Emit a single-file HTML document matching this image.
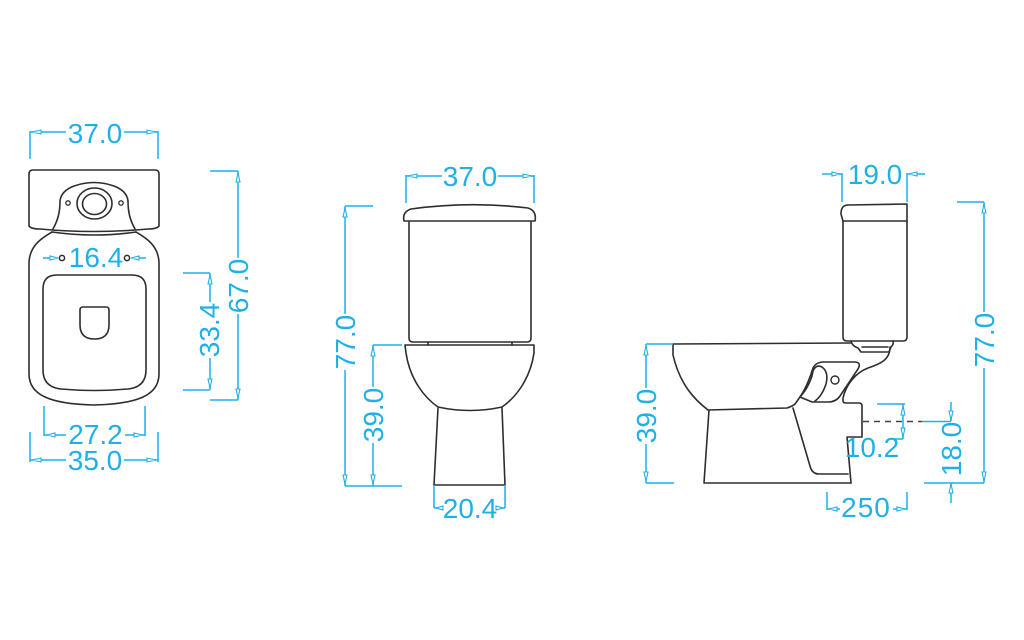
<!DOCTYPE html>
<html>
<head>
<meta charset="utf-8">
<style>
  html,body{margin:0;padding:0;background:#fff;}
  svg{display:block;}
  .d{fill:none;stroke:#2e2e2e;stroke-width:1.6;stroke-linejoin:round;stroke-linecap:round;}
  .c{fill:none;stroke:#1fb0e8;stroke-width:1.5;}
  .a{fill:#fff;stroke:#1fb0e8;stroke-width:1.1;}
  text{font-family:"Liberation Sans",sans-serif;font-size:28px;fill:#1fb0e8;text-anchor:middle;}
</style>
</head>
<body>
<svg width="1024" height="640" viewBox="0 0 1024 640" xmlns="http://www.w3.org/2000/svg">

<!-- ================= LEFT (TOP VIEW) ================= -->
<!-- tank -->
<path class="d" d="M29 226 L29 174 Q29 170 33 170 L155 170 Q159 170 159 174 L159 226 Q157 229 148 229 Q94 234 40 229 Q31 229 29 226"/>
<path class="d" d="M52 232 Q94 238 136 232"/>
<!-- hump -->
<path class="d" d="M53 229 C58 220 60 212 60 201 Q61 191 74 186 Q94 179 114 186 Q127 191 128 201 C128 212 130 220 135 229"/>
<ellipse class="d" cx="94.5" cy="203.5" rx="17.5" ry="15.5"/>
<ellipse class="d" cx="94.5" cy="204" rx="12" ry="10.5"/>
<circle class="d" cx="68" cy="203" r="2.2" style="stroke-width:1.3"/>
<circle class="d" cx="121" cy="203" r="2.2" style="stroke-width:1.3"/>
<!-- bowl outline -->
<path class="d" d="M52 232 C42 238 30 245 29 262 L29 374 C29 395 50 404 94 405 C138 404 159 395 159 374 L159 262 C158 245 146 238 136 232"/>
<!-- seat -->
<path class="d" d="M43 289 Q43 275 57 275 L132 275 Q146 275 146 289 L146 370 Q146 387 128 389 Q94 392 61 389 Q43 387 43 370 Z"/>
<!-- D handle -->
<path class="d" d="M80 310 Q80 307 83 307 L106 307 Q109 307 109 310 L109 325 Q109 339 94.5 339 Q80 339 80 325 Z"/>
<!-- 16.4 dots -->
<circle cx="62" cy="258" r="2.6" fill="#fff" stroke="#2e2e2e" stroke-width="1.5"/>
<circle cx="127" cy="258" r="2.6" fill="#fff" stroke="#2e2e2e" stroke-width="1.5"/>

<!-- dims left -->
<!-- 37.0 -->
<path class="c" d="M30 131 V159 M158 131 V159 M30 132 H66 M124 132 H158"/>
<path class="a" d="M32 132 l9 -2 v4 z M156 132 l-9 -2 v4 z"/>
<text x="95" y="143">37.0</text>
<!-- 16.4 -->
<path class="c" d="M43 258 H57 M132 258 H146"/>
<path class="a" d="M58 258 l-8 -2 v4 z M131 258 l8 -2 v4 z"/>
<text x="96" y="267">16.4</text>
<!-- 27.2 -->
<path class="c" d="M44 406 V436 M145 406 V436 M44 435 H66 M125 435 H145"/>
<path class="a" d="M47 435 l8 -2 v4 z M142 435 l-8 -2 v4 z"/>
<text x="95.5" y="444">27.2</text>
<!-- 35.0 -->
<path class="c" d="M30 432 V462 M158 432 V462 M30 460 H66 M124 460 H158"/>
<path class="a" d="M32 460 l9 -2 v4 z M156 460 l-9 -2 v4 z"/>
<text x="95" y="470">35.0</text>
<!-- 67.0 -->
<path class="c" d="M210 171 H238 M210 400 H238 M238 171 V258 M238 314 V400"/>
<path class="a" d="M238 173 l-2 9 h4 z M238 398 l-2 -9 h4 z"/>
<text transform="translate(248,286) rotate(-90)">67.0</text>
<!-- 33.4 -->
<path class="c" d="M183 273 H210 M183 390 H210 M210 273 V302 M210 358 V390"/>
<path class="a" d="M210 275 l-2 9 h4 z M210 388 l-2 -9 h4 z"/>
<text transform="translate(219,330) rotate(-90)">33.4</text>

<!-- ================= MIDDLE (FRONT VIEW) ================= -->
<path class="d" d="M404 221 Q402 212 411 209 Q470 201 528 208 Q537 211 535 221 Z"/>
<path class="d" d="M409 222 L409 338 Q409 342 413 342 L527 342 Q531 342 531 338 L531 222"/>
<path class="d" d="M428 342 V345 M512 342 V345"/>
<path class="d" d="M405 345 L534 345 L534 353 C530 380 515 398 502 407 Q470 414 438 407 C425 398 410 380 406 353 Z"/>
<path class="d" d="M438 408 L434 485 L505 485 L502 408"/>

<!-- 37.0 -->
<path class="c" d="M406 175 V203 M534 175 V203 M406 176 H442 M498 176 H534"/>
<path class="a" d="M408 176 l9 -2 v4 z M532 176 l-9 -2 v4 z"/>
<text x="470" y="186">37.0</text>
<!-- 77.0 -->
<path class="c" d="M345 206 H373 M345 486 H402 M345 206 V314 M345 370 V486"/>
<path class="a" d="M345 208 l-2 9 h4 z M345 484 l-2 -9 h4 z"/>
<text transform="translate(355,342) rotate(-90)">77.0</text>
<!-- 39.0 -->
<path class="c" d="M373 345 H402 M373 345 V387 M373 443 V486"/>
<path class="a" d="M373 347 l-2 9 h4 z M373 484 l-2 -9 h4 z"/>
<text transform="translate(383,415) rotate(-90)">39.0</text>
<!-- 20.4 -->
<path class="c" d="M434 485 V508 M505 485 V508 M434 508 H442 M498 508 H505"/>
<path class="a" d="M436 508 l7 -2 v4 z M503 508 l-7 -2 v4 z"/>
<text x="470" y="518">20.4</text>

<!-- ================= RIGHT (SIDE VIEW) ================= -->
<!-- tank -->
<path class="d" d="M843 221 L841 214 Q841 205 848 205 L907 204 L907 221 Z"/>
<path class="d" d="M843 221 L843 337 Q843 341 847 341 L903 341 Q907 341 907 337 L907 221"/>
<!-- connector -->
<path class="d" d="M851 341 Q852 346 858 348 L861 352 L889 352 L891 347 Q894 344 893 341"/>
<path class="d" d="M862 347 H888"/>
<!-- bowl -->
<path class="d" d="M673 344 L851 343 M673 344 L673 355 C680 385 695 400 708 410 L787 408 Q793 406 795 404 L800 397"/>
<!-- back / outlet -->
<path class="d" d="M890 347 C890 360 880 364 868 368 C855 373 846 385 843 398 L843 401 Q843 403 846 403 L859 403 Q862 403 862 406 L862 437 L847 437 L851 483"/>
<!-- trap arm -->
<path class="d" d="M800 397 C806 388 810 378 813 368 Q816 362 824 362 L854 362 Q862 362 858 369 L840 396 Q836 402 828 402 L812 402 Z"/>
<path class="d" d="M800 397 C808 388 812 378 813 371 Q816 364 822 367 Q829 372 826 384 Q822 396 815 401"/>
<circle class="d" cx="835" cy="380" r="4" style="stroke-width:1.4"/>
<!-- pedestal -->
<path class="d" d="M709 410 L704 483 L851 483"/>
<path class="d" d="M793 408 L810 466 Q812 474 819 474 L848 474"/>
<!-- dashed centre line -->
<path d="M863 421.5 H922" stroke="#444" stroke-width="1.5" stroke-dasharray="6,5" fill="none"/>

<!-- 19.0 -->
<path class="c" d="M842 173 V202 M907 173 V202 M822 174 H842 M907 174 H925"/>
<path class="a" d="M840 174 l-8 -2 v4 z M909 174 l8 -2 v4 z"/>
<text x="875" y="184">19.0</text>
<!-- 77.0 -->
<path class="c" d="M957 202 H984 M924 483 H984 M984 202 V312 M984 368 V483"/>
<path class="a" d="M984 204 l-2 9 h4 z M984 481 l-2 -9 h4 z"/>
<text transform="translate(994,340) rotate(-90)">77.0</text>
<!-- 18.0 -->
<path class="c" d="M922 421.5 H951 M951 402 V421 M951 483 V503 M951 425 V425"/>
<path class="a" d="M951 420 l-2 -9 h4 z M951 484 l-2 9 h4 z"/>
<text transform="translate(961,449) rotate(-90)">18.0</text>
<!-- 10.2 -->
<path class="c" d="M877 404 H905 M903 404 V439 M895 439 H903"/>
<path class="a" d="M903 406 l-2 9 h4 z M903 437 l-2 -9 h4 z"/>
<text x="872" y="457">10.2</text>
<!-- 39.0 -->
<path class="c" d="M646 344 H673 M646 483 H674 M646 344 V388 M646 444 V483"/>
<path class="a" d="M646 346 l-2 9 h4 z M646 481 l-2 -9 h4 z"/>
<text transform="translate(656,416) rotate(-90)">39.0</text>
<!-- 250 -->
<path class="c" d="M827 492 V510 M907 492 V510 M827 509 H840 M893 509 H907"/>
<path class="a" d="M829 509 l8 -2 v4 z M905 509 l-8 -2 v4 z"/>
<text x="866" y="517" style="letter-spacing:1px">250</text>

</svg>
</body>
</html>
